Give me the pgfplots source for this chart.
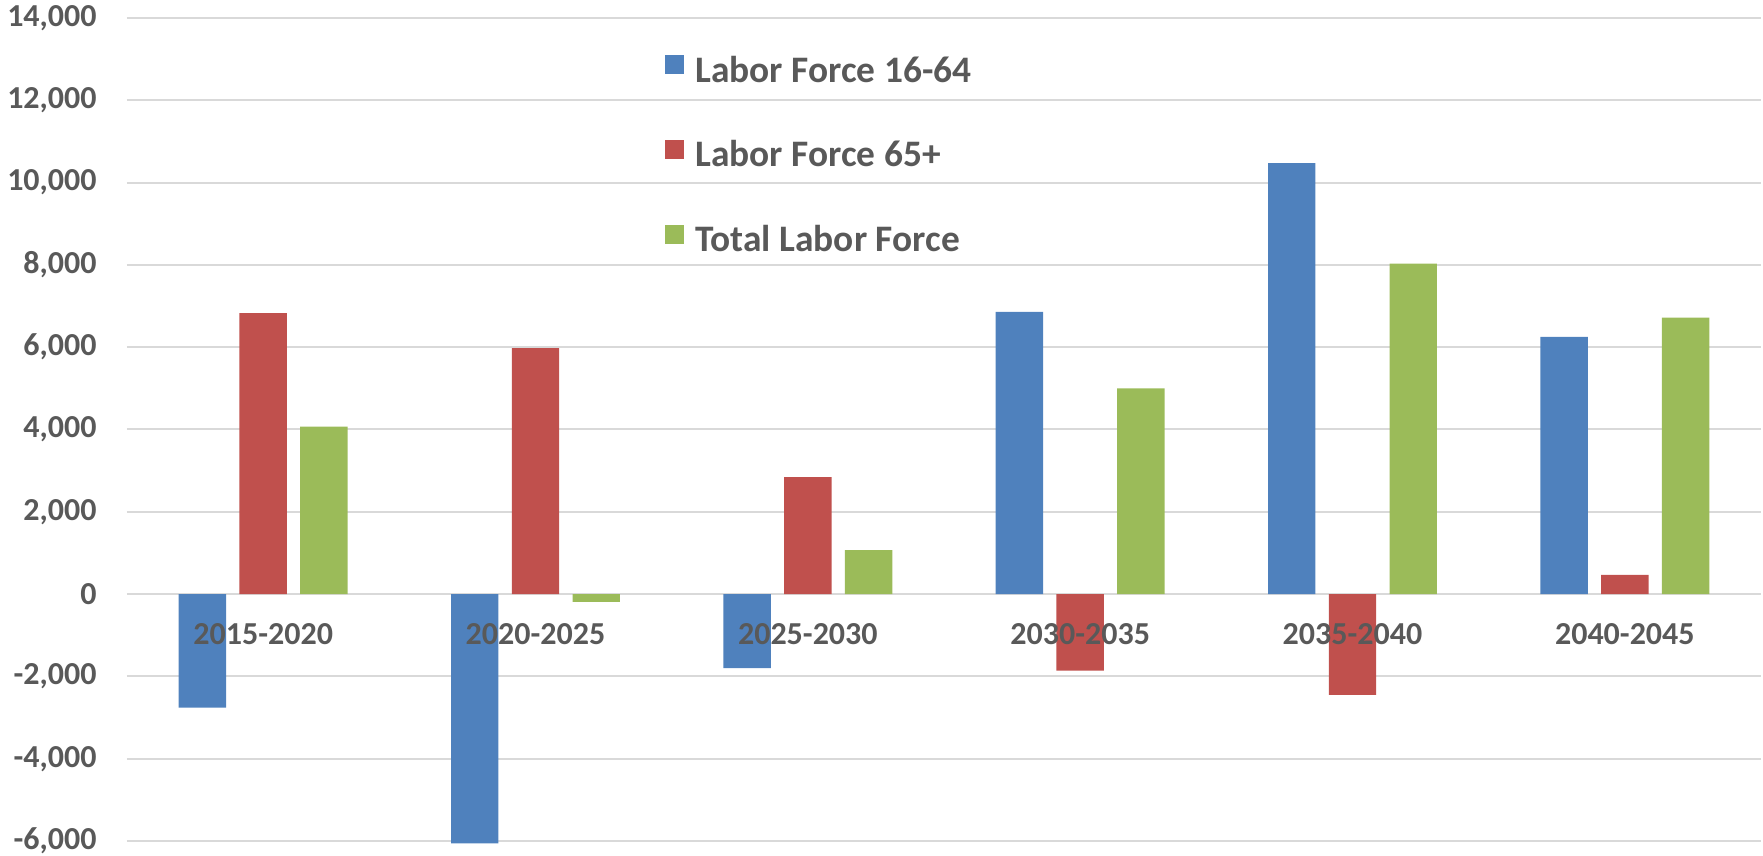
\documentclass[border=0pt]{standalone}
\usepackage{fontspec}
\setmainfont{Carlito}
\usepackage{pgfplots}
\pgfplotsset{compat=1.18}
\definecolor{cblue}{HTML}{4F81BD}
\definecolor{cred}{HTML}{C0504D}
\definecolor{cgreen}{HTML}{9BBB59}
\definecolor{ctext}{HTML}{595959}
\definecolor{cgrid}{HTML}{D9D9D9}
\begin{document}
\begin{tikzpicture}
\begin{axis}[
  set layers=standard,
  scale only axis, width=817pt, height=411.5pt,
  xmin=-0.5, xmax=5.5, ymin=-6000, ymax=14000,
  ytick={-6000,-4000,...,14000},
  scaled y ticks=false,
  xtick={0,1,2,3,4,5},
  xticklabels={2015-2020,2020-2025,2025-2030,2030-2035,2035-2040,2040-2045},
  axis line style={draw=none},
  major tick length=0pt,
  ymajorgrids, grid style={cgrid, line width=1pt},
  ybar, bar width=0.174,
  clip=false,
  yticklabel style={font=\fontsize{16}{19}\selectfont\bfseries, text=ctext, inner sep=0pt, anchor=east, xshift=-15pt,
    /pgf/number format/1000 sep={,}, /pgf/number format/assume math mode=true},
  xticklabel style={/pgfplots/on layer=axis foreground, font=\fontsize{16}{19}\selectfont\bfseries, text=ctext, inner sep=0pt, anchor=center, yshift=103.2pt},
  legend cell align=left,
  legend style={draw=none, fill=none, at={(0.3293,0.955)}, anchor=north west,
    font=\fontsize{18.7}{22}\selectfont\bfseries, text=ctext, inner sep=0pt, row sep=27.5pt,
    nodes={inner sep=0pt},
    /tikz/every odd column/.append style={column sep=5.5pt}},
]
\addplot[fill=cblue, draw=none, bar shift=-0.223,
  legend image code/.code={\fill[cblue] (0pt,-2pt) rectangle (9.5pt,7.5pt);}]
  coordinates {(0,-2760) (1,-6060) (2,-1800) (3,6860) (4,10470) (5,6250)};
\addplot[fill=cred, draw=none, bar shift=0,
  legend image code/.code={\fill[cred] (0pt,-2pt) rectangle (9.5pt,7.5pt);}]
  coordinates {(0,6830) (1,5980) (2,2840) (3,-1860) (4,-2450) (5,470)};
\addplot[fill=cgreen, draw=none, bar shift=0.223,
  legend image code/.code={\fill[cgreen] (0pt,-2pt) rectangle (9.5pt,7.5pt);}]
  coordinates {(0,4070) (1,-190) (2,1070) (3,5000) (4,8030) (5,6720)};
\legend{Labor Force 16-64, Labor Force 65+, Total Labor Force}
\end{axis}
\pgfresetboundingbox
\path[use as bounding box] (-63.5pt,-7.5pt) rectangle (818pt,420.5pt);
\end{tikzpicture}
\end{document}
